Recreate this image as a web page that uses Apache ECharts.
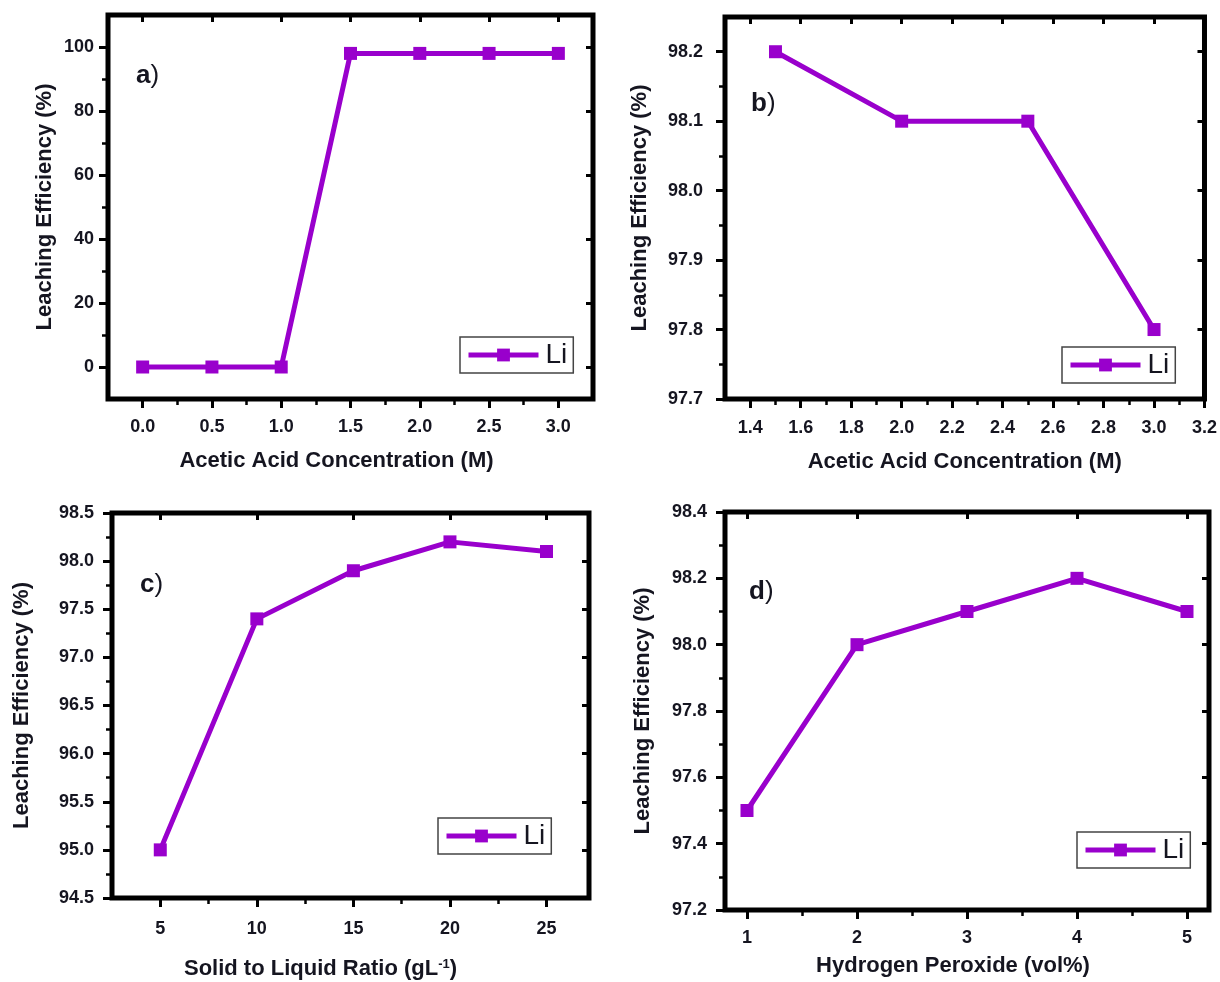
<!DOCTYPE html>
<html>
<head>
<meta charset="utf-8">
<script src="https://cdn.jsdelivr.net/npm/echarts@6/dist/echarts.min.js"></script>
<style>
html,body{margin:0;padding:0;background:#fff;}
#chart{width:1220px;height:982px;}
</style>
</head>
<body>
<div id="chart"></div>
<script>
// ---- data ----
const seriesName = 'Li';
const aX = [0, 0.5, 1.0, 1.5, 2.0, 2.5, 3.0];
const aY = [0, 0, 0, 98, 98, 98, 98];
const bX = [1.5, 2.0, 2.5, 3.0];
const bY = [98.2, 98.1, 98.1, 97.8];
const cX = [5, 10, 15, 20, 25];
const cY = [95.0, 97.4, 97.9, 98.2, 98.1];
const dX = [1, 2, 3, 4, 5];
const dY = [97.5, 98.0, 98.1, 98.2, 98.1];

// ---- tick labels ----
const aXTicks = [0, 0.5, 1.0, 1.5, 2.0, 2.5, 3.0];
const aYTicks = [0, 20, 40, 60, 80, 100];
const bXTicks = [1.4, 1.6, 1.8, 2.0, 2.2, 2.4, 2.6, 2.8, 3.0, 3.2];
const bYTicks = [97.7, 97.8, 97.9, 98.0, 98.1, 98.2];
const cXTicks = [5, 10, 15, 20, 25];
const cYTicks = [94.5, 95.0, 95.5, 96.0, 96.5, 97.0, 97.5, 98.0, 98.5];
const dXTicks = [1, 2, 3, 4, 5];
const dYTicks = [97.2, 97.4, 97.6, 97.8, 98.0, 98.2, 98.4];

const panelLetters = ['a', 'b', 'c', 'd'];
const yTitle = 'Leaching Efficiency (%)';
const xTitles = ['Acetic Acid Concentration (M)', 'Acetic Acid Concentration (M)',
                 'Solid to Liquid Ratio (gL{sup|-1})', 'Hydrogen Peroxide (vol%)'];

// ---- styling / layout ----
const FONT = '"Liberation Sans", Arial, Helvetica, sans-serif';
const PURPLE = '#9900cc';
const LABEL_COLOR = '#151520';

const panels = [
  { grid: {left: 108, top: 15, width: 485, height: 384},
    x: {min: -0.25, max: 3.25, ticks: aXTicks, dec: 1, gap: 51, pad: [0, 28, 0, 0], margin: 19},
    y: {min: -10, max: 110, ticks: aYTicks, dec: 0, gap: 52, margin: 14},
    xs: aX, ys: aY, legend: {left: 460, top: 337}, label: {left: 136, top: 63} },
  { grid: {left: 725, top: 17, width: 480, height: 382},
    x: {min: 1.3, max: 3.2, ticks: bXTicks, dec: 1, gap: 52, pad: [0, 0, 0, 0], margin: 20},
    y: {min: 97.7, max: 98.25, ticks: bYTicks, dec: 1, gap: 74, margin: 22},
    xs: bX, ys: bY, legend: {left: 1062, top: 347}, label: {left: 751, top: 91} },
  { grid: {left: 112, top: 513, width: 477, height: 385},
    x: {min: 2.5, max: 27.2, ticks: cXTicks, dec: 0, gap: 60, pad: [0, 60, 0, 0], margin: 22},
    y: {min: 94.5, max: 98.5, ticks: cYTicks, dec: 1, gap: 79, margin: 18},
    xs: cX, ys: cY, legend: {left: 438, top: 818}, label: {left: 140, top: 572} },
  { grid: {left: 725, top: 512, width: 484, height: 398},
    x: {min: 0.8, max: 5.2, ticks: dXTicks, dec: 0, gap: 45, pad: [0, 28, 0, 0], margin: 19},
    y: {min: 97.2, max: 98.4, ticks: dYTicks, dec: 1, gap: 71, margin: 18},
    xs: dX, ys: dY, legend: {left: 1077, top: 832}, label: {left: 749, top: 579} }
];

function minors(t, min, max) {
  const step = t[1] - t[0];
  const out = [];
  const eps = step * 0.05;
  for (let k = -1; k <= t.length; k++) {
    const v = +(t[0] + (k + 0.5) * step).toFixed(6);
    if (v > min + eps && v < max - eps) out.push(v);
  }
  return out;
}

const labelStyle = {fontSize: 18, fontWeight: 'bold', color: LABEL_COLOR, fontFamily: FONT};
const nameStyle = {fontSize: 22, fontWeight: 'bold', color: LABEL_COLOR, fontFamily: FONT};
const tickLine = {color: '#000', width: 3};

const grids = [], xAxes = [], yAxes = [], series = [], legends = [], graphics = [];

panels.forEach((p, i) => {
  grids.push(Object.assign({show: true, borderColor: '#000', borderWidth: 5, backgroundColor: '#fff', containLabel: false}, p.grid));
  const xMin = minors(p.x.ticks, p.x.min, p.x.max);
  const yMin = minors(p.y.ticks, p.y.min, p.y.max);
  const common = {type: 'value', gridIndex: i, splitLine: {show: false}};
  // x main
  xAxes.push(Object.assign({}, common, {
    min: p.x.min, max: p.x.max, position: 'bottom',
    axisLine: {show: false, onZero: false},
    axisTick: {show: true, inside: false, length: 9, lineStyle: tickLine, customValues: p.x.ticks},
    axisLabel: Object.assign({customValues: p.x.ticks, margin: p.x.margin,
      formatter: v => Number(v).toFixed(p.x.dec)}, labelStyle),
    name: xTitles[i], nameLocation: 'middle', nameGap: p.x.gap,
    nameTextStyle: Object.assign({padding: p.x.pad,
      rich: {sup: {fontSize: 13, fontWeight: 'bold', color: LABEL_COLOR, fontFamily: FONT, verticalAlign: 'top'}}}, nameStyle)
  }));
  // x minor
  xAxes.push(Object.assign({}, common, {
    min: p.x.min, max: p.x.max, position: 'bottom',
    axisLine: {show: false, onZero: false}, axisLabel: {show: false},
    axisTick: {show: true, inside: false, length: 6, lineStyle: {color: '#000', width: 2.5}, customValues: xMin}
  }));
  // x top
  xAxes.push(Object.assign({}, common, {
    min: p.x.min, max: p.x.max, position: 'top',
    axisLine: {show: false, onZero: false}, axisLabel: {show: false},
    axisTick: {show: true, inside: true, length: 7, lineStyle: tickLine, customValues: p.x.ticks}
  }));
  // y main
  yAxes.push(Object.assign({}, common, {
    min: p.y.min, max: p.y.max, position: 'left',
    axisLine: {show: false, onZero: false},
    axisTick: {show: true, inside: false, length: 9, lineStyle: tickLine, customValues: p.y.ticks},
    axisLabel: Object.assign({customValues: p.y.ticks, margin: p.y.margin,
      formatter: v => Number(v).toFixed(p.y.dec)}, labelStyle),
    name: yTitle, nameLocation: 'middle', nameGap: p.y.gap,
    nameTextStyle: nameStyle
  }));
  // y minor
  yAxes.push(Object.assign({}, common, {
    min: p.y.min, max: p.y.max, position: 'left',
    axisLine: {show: false, onZero: false}, axisLabel: {show: false},
    axisTick: {show: true, inside: false, length: 6, lineStyle: {color: '#000', width: 2.5}, customValues: yMin}
  }));
  // y right
  yAxes.push(Object.assign({}, common, {
    min: p.y.min, max: p.y.max, position: 'right',
    axisLine: {show: false, onZero: false}, axisLabel: {show: false},
    axisTick: {show: true, inside: true, length: 7, lineStyle: tickLine, customValues: p.y.ticks}
  }));

  series.push({
    type: 'line', name: seriesName, xAxisIndex: 3 * i, yAxisIndex: 3 * i,
    data: p.xs.map((x, j) => [x, p.ys[j]]),
    symbol: 'rect', symbolSize: 13, showSymbol: true,
    lineStyle: {color: PURPLE, width: 5},
    itemStyle: {color: PURPLE},
    animation: false, z: 5
  });

  legends.push({
    left: p.legend.left, top: p.legend.top, orient: 'horizontal',
    data: [seriesName], selectedMode: false,
    itemWidth: 70, itemHeight: 16, itemGap: 0,
    padding: [4, 6, 4, 6],
    borderColor: '#444', borderWidth: 1.5, borderRadius: 0,
    backgroundColor: '#fff',
    lineStyle: {width: 5, color: PURPLE},
    itemStyle: {color: PURPLE},
    textStyle: {fontSize: 28, color: LABEL_COLOR, fontFamily: FONT, padding: [0, 0, 0, 2]}
  });

  graphics.push({
    type: 'text', left: p.label.left, top: p.label.top, z: 10,
    style: {
      text: '{b|' + panelLetters[i] + '}{p|)}',
      rich: {
        b: {fontSize: 26, fontWeight: 'bold', fill: LABEL_COLOR, fontFamily: FONT},
        p: {fontSize: 26, fontWeight: 'normal', fill: LABEL_COLOR, fontFamily: FONT}
      }
    }
  });
});

const chart = echarts.init(document.getElementById('chart'), null, {renderer: 'canvas'});
chart.setOption({
  backgroundColor: '#fff',
  animation: false,
  grid: grids,
  xAxis: xAxes,
  yAxis: yAxes,
  series: series,
  legend: legends,
  graphic: graphics
});
</script>
</body>
</html>
